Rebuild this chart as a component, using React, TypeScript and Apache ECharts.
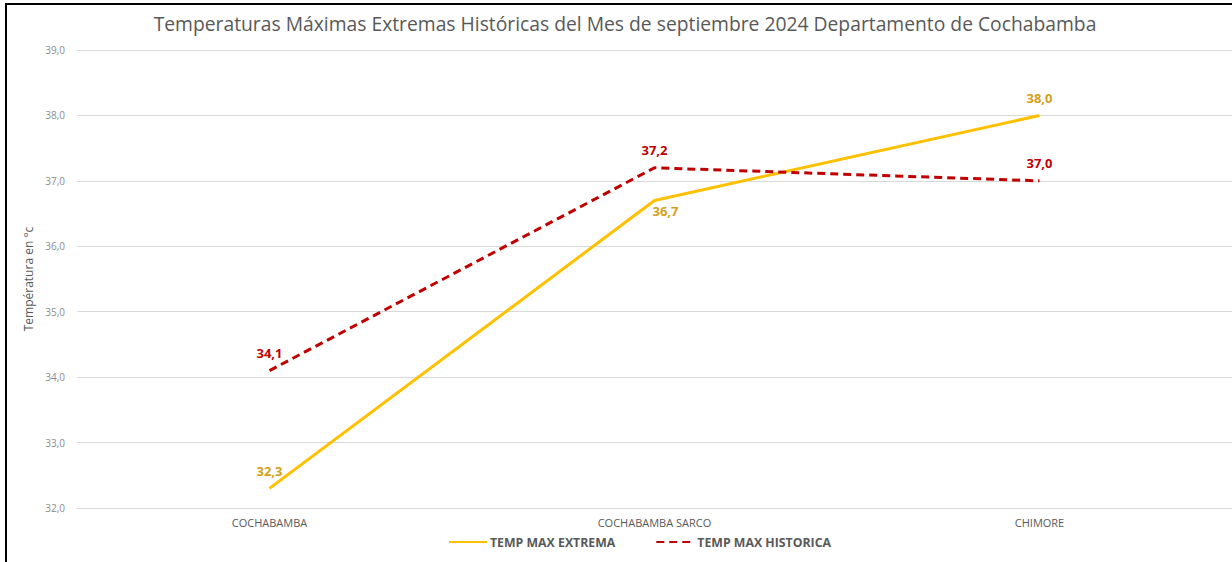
import React, { useEffect, useRef } from "react";
import * as echarts from "echarts";

const categories = ["COCHABAMBA", "COCHABAMBA SARCO", "CHIMORE"];
const tempMaxExtrema = [32.3, 36.7, 38.0];
const tempMaxHistorica = [34.1, 37.2, 37.0];
const extremaLabelPos = ["top", "bottom", "top"];
const yTicks = { min: 32, max: 39, interval: 1 };
const titleText =
  "Temperaturas Máximas Extremas Históricas del Mes de septiembre 2024 Departamento de Cochabamba";
const yAxisName = "Températura en °c";

const fmt = (v: number) => v.toFixed(1).replace(".", ",");

export default function App() {
  const ref = useRef<HTMLDivElement>(null);
  useEffect(() => {
    if (!ref.current) return;
    const chart = echarts.init(ref.current, null, { renderer: "svg" });
    const font = "'Open Sans', 'Noto Sans', sans-serif";
    const labelBase = {
      show: true,
      fontSize: 13,
      fontWeight: "bold",
      distance: 11,
      fontFamily: font,
      formatter: (p: any) => fmt(p.value),
    };
    chart.setOption({
      animation: false,
      backgroundColor: "#ffffff",
      textStyle: { fontFamily: font },
      title: {
        text: titleText,
        left: 620,
        textAlign: "center",
        top: 9,
        textStyle: { fontSize: 19.3, fontWeight: "normal", color: "#595959", fontFamily: font },
      },
      grid: { left: 77, right: -3, top: 50, bottom: 54, containLabel: false },
      legend: {
        bottom: 9,
        left: 443,
        itemWidth: 38,
        itemHeight: 14,
        itemGap: 40,
        itemStyle: { opacity: 0 },
        textStyle: { fontSize: 12.3, fontWeight: "bold", color: "#595959", fontFamily: font, padding: [0, 0, 0, -2] },
        data: ["TEMP MAX EXTREMA", "TEMP MAX HISTORICA"],
      },
      xAxis: {
        type: "category",
        data: categories,
        boundaryGap: true,
        axisLine: { show: true, lineStyle: { color: "#d9d9d9" } },
        axisTick: { show: false },
        axisLabel: { fontSize: 11, color: "#595959", margin: 9 },
      },
      yAxis: {
        type: "value",
        min: yTicks.min,
        max: yTicks.max,
        interval: yTicks.interval,
        name: yAxisName,
        nameLocation: "middle",
        nameGap: 42,
        nameRotate: 90,
        nameTextStyle: { fontSize: 12, color: "#595959" },
        axisLine: { show: false },
        axisTick: { show: false },
        axisLabel: { fontSize: 10, color: "#8c8c8c", margin: 12, formatter: (v: number) => fmt(v) },
        splitLine: { lineStyle: { color: "#d9d9d9", width: 1 } },
      },
      series: [
        {
          name: "TEMP MAX EXTREMA",
          type: "line",
          data: tempMaxExtrema.map((v, i) => ({
            value: v,
            label:
              extremaLabelPos[i] === "bottom"
                ? { position: "bottom", offset: [11, -7] }
                : { position: "top" },
          })),
          symbol: "circle",
          symbolSize: 0,
          showSymbol: true,
          lineStyle: { color: "#FFC000", width: 3 },
          itemStyle: { color: "#FFC000" },
          label: { ...labelBase, color: "#D4A017", position: "top" },
        },
        {
          name: "TEMP MAX HISTORICA",
          type: "line",
          data: tempMaxHistorica,
          symbol: "circle",
          symbolSize: 0,
          showSymbol: true,
          lineStyle: { color: "#C00000", width: 3, type: [8, 5] },
          itemStyle: { color: "#C00000" },
          label: { ...labelBase, color: "#C00000", position: "top" },
        },
      ],
      graphic: [
        { type: "line", shape: { x1: 6, y1: 4, x2: 6, y2: 562 }, style: { stroke: "#000", lineWidth: 2 } },
        { type: "line", shape: { x1: 5, y1: 4, x2: 1232, y2: 4 }, style: { stroke: "#000", lineWidth: 2 } },
      ],
    });
    return () => chart.dispose();
  }, []);
  return (
    <div
      ref={ref}
      style={{ position: "fixed", left: 0, top: 0, width: 1232, height: 562 }}
    />
  );
}
